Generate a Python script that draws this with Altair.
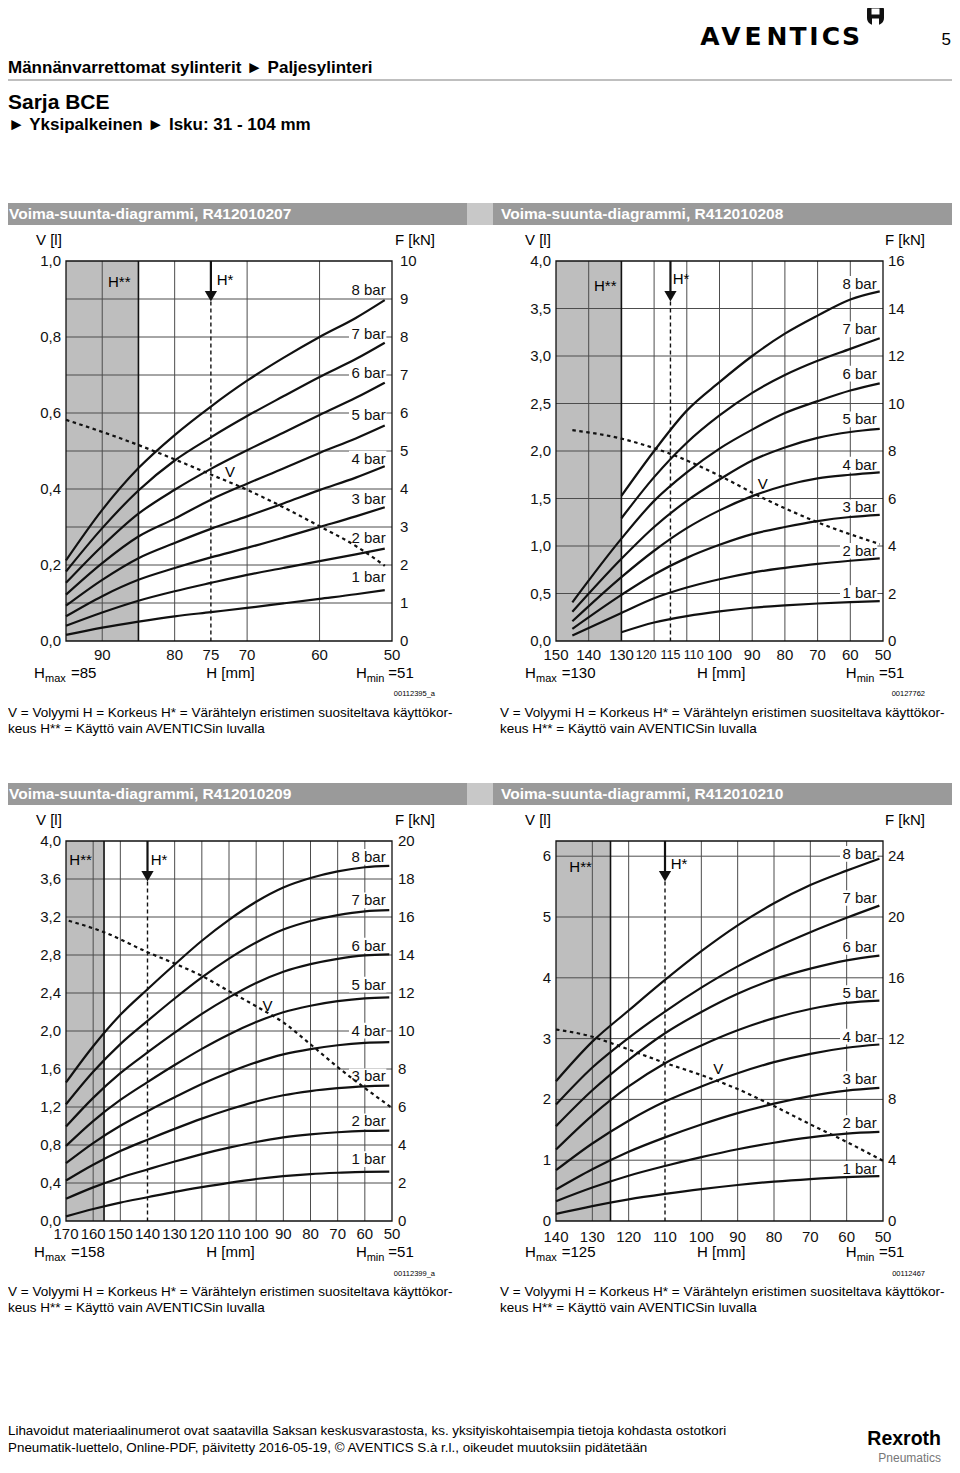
import altair as alt
import pandas as pd

FONT = "Liberation Sans"
LOGO_FONT = "DejaVu Sans"
OFF = 8
INK = "#111111"
GRID = "#4d4d4d"
SHADE = "#bebebe"
BAR_DARK = "#9a9a9a"
BAR_LIGHT = "#c8c8c8"
RULE = "#808080"

# ---------------- texts ----------------
header_line1 = "Männänvarrettomat sylinterit ► Paljesylinteri"
header_line2 = "Sarja BCE"
header_line3 = "► Yksipalkeinen ► Isku: 31 - 104 mm"
brand_letters = ["A", "V", "E", "N", "T", "I", "C", "S"]
page_number = "5"
panel_titles = ["Voima-suunta-diagrammi, R412010207", "Voima-suunta-diagrammi, R412010208",
                "Voima-suunta-diagrammi, R412010209", "Voima-suunta-diagrammi, R412010210"]
panel_codes = ["00112395_a", "00127762", "00112399_a", "00112467"]
hmax_values = ["=85", "=130", "=158", "=125"]
note_line1 = "V = Volyymi H = Korkeus H* = Värähtelyn eristimen suositeltava käyttökor-"
note_line2 = "keus H** = Käyttö vain AVENTICSin luvalla"
footer_line1 = ("Lihavoidut materiaalinumerot ovat saatavilla Saksan keskusvarastosta, ks. "
                "yksityiskohtaisempia tietoja kohdasta ostotkori")
footer_line2 = ("Pneumatik-luettelo, Online-PDF, päivitetty 2016-05-19, © AVENTICS S.à r.l., "
                "oikeudet muutoksiin pidätetään")
bar_names = ["1 bar", "2 bar", "3 bar", "4 bar", "5 bar", "6 bar", "7 bar", "8 bar"]

# ---------------- panel 1 : R412010207 ----------------
p1_h = [95, 90, 85, 80, 75, 70, 65, 60, 55, 51]
p1_bar1 = [0.16, 0.35, 0.51, 0.65, 0.76, 0.87, 0.99, 1.11, 1.23, 1.34]
p1_bar2 = [0.40, 0.75, 1.06, 1.31, 1.53, 1.74, 1.92, 2.10, 2.28, 2.43]
p1_bar3 = [0.65, 1.18, 1.61, 1.92, 2.20, 2.45, 2.72, 3.00, 3.28, 3.52]
p1_bar4 = [0.93, 1.61, 2.18, 2.58, 2.95, 3.28, 3.62, 3.97, 4.30, 4.60]
p1_bar5 = [1.22, 2.05, 2.75, 3.22, 3.72, 4.14, 4.54, 4.95, 5.33, 5.67]
p1_bar6 = [1.53, 2.50, 3.35, 3.98, 4.53, 5.02, 5.48, 5.95, 6.40, 6.80]
p1_bar7 = [1.83, 2.97, 3.96, 4.75, 5.36, 5.92, 6.44, 6.95, 7.42, 7.85]
p1_bar8 = [2.12, 3.45, 4.55, 5.42, 6.17, 6.85, 7.45, 8.00, 8.50, 8.97]
p1_vol_h = [95, 87, 80, 75, 70, 65, 60, 55, 51]
p1_vol = [0.582, 0.53, 0.478, 0.438, 0.398, 0.352, 0.302, 0.25, 0.198]
p1_xticks = [90, 80, 75, 70, 60, 50]
p1_vgrid = [90, 80, 70, 60]
p1_fgrid = [1, 2, 3, 4, 5, 6, 7, 8, 9]
p1_vticks = [0.0, 0.2, 0.4, 0.6, 0.8, 1.0]
p1_vtick_labels = ["0,0", "0,2", "0,4", "0,6", "0,8", "1,0"]
p1_fticks = [0, 1, 2, 3, 4, 5, 6, 7, 8, 9, 10]

# ---------------- panel 2 : R412010208 ----------------
p2_h_long = [145, 130, 120, 110, 100, 90, 80, 70, 60, 51]
p2_h_short = [130, 120, 110, 100, 90, 80, 70, 60, 51]
p2_bar1 = [0.37, 0.78, 1.05, 1.25, 1.40, 1.50, 1.58, 1.64, 1.68]
p2_bar2 = [0.23, 1.18, 1.80, 2.25, 2.60, 2.88, 3.08, 3.25, 3.38, 3.48]
p2_bar3 = [0.51, 1.94, 2.80, 3.50, 4.05, 4.50, 4.80, 5.05, 5.22, 5.31]
p2_bar4 = [0.83, 2.69, 3.80, 4.75, 5.50, 6.10, 6.55, 6.85, 7.00, 7.10]
p2_bar5 = [1.23, 3.46, 4.80, 5.90, 6.80, 7.60, 8.15, 8.55, 8.80, 8.93]
p2_bar6 = [1.63, 4.31, 5.90, 7.10, 8.10, 8.90, 9.60, 10.10, 10.55, 10.85]
p2_bar7 = [5.17, 6.90, 8.35, 9.50, 10.45, 11.20, 11.80, 12.30, 12.75]
p2_bar8 = [6.11, 8.00, 9.70, 10.90, 12.00, 12.94, 13.70, 14.38, 14.72]
p2_vol_h = [145, 130, 120, 115, 100, 87, 70, 51]
p2_vol = [2.22, 2.13, 2.03, 1.97, 1.74, 1.51, 1.25, 1.02]
p2_xticks = [150, 140, 130, 100, 90, 80, 70, 60, 50]
p2_vgrid = [140, 120, 110, 100, 90, 80, 70, 60]
p2_fgrid = [2, 4, 6, 8, 10, 12, 14]
p2_vticks = [0.0, 0.5, 1.0, 1.5, 2.0, 2.5, 3.0, 3.5, 4.0]
p2_vtick_labels = ["0,0", "0,5", "1,0", "1,5", "2,0", "2,5", "3,0", "3,5", "4,0"]
p2_fticks = [0, 2, 4, 6, 8, 10, 12, 14, 16]

# ---------------- panel 3 : R412010209 ----------------
p3_h = [170, 160, 150, 140, 130, 120, 110, 100, 90, 80, 70, 60, 51]
p3_bar1 = [0.24, 0.63, 0.97, 1.25, 1.53, 1.78, 2.01, 2.21, 2.36, 2.47, 2.54, 2.59, 2.60]
p3_bar2 = [1.17, 1.77, 2.28, 2.71, 3.13, 3.52, 3.86, 4.16, 4.40, 4.56, 4.67, 4.74, 4.76]
p3_bar3 = [2.13, 2.96, 3.68, 4.28, 4.85, 5.39, 5.87, 6.29, 6.62, 6.84, 6.99, 7.09, 7.12]
p3_bar4 = [3.04, 4.10, 5.01, 5.78, 6.51, 7.21, 7.82, 8.35, 8.77, 9.05, 9.25, 9.37, 9.41]
p3_bar5 = [3.95, 5.26, 6.37, 7.31, 8.21, 9.06, 9.82, 10.47, 10.99, 11.33, 11.57, 11.72, 11.77]
p3_bar6 = [4.97, 6.48, 7.78, 8.87, 9.91, 10.90, 11.77, 12.53, 13.12, 13.52, 13.80, 13.98, 14.03]
p3_bar7 = [6.14, 7.85, 9.31, 10.53, 11.71, 12.82, 13.81, 14.66, 15.34, 15.79, 16.10, 16.30, 16.36]
p3_bar8 = [7.29, 9.20, 10.85, 12.20, 13.50, 14.75, 15.85, 16.80, 17.55, 18.05, 18.40, 18.62, 18.69]
p3_vol_h = [169, 156, 140, 130, 120, 110, 100, 90, 80, 70, 60, 50]
p3_vol = [3.16, 3.04, 2.83, 2.71, 2.58, 2.42, 2.26, 2.09, 1.86, 1.62, 1.40, 1.19]
p3_xticks = [170, 160, 150, 140, 130, 120, 110, 100, 90, 80, 70, 60, 50]
p3_vgrid = [160, 150, 130, 120, 110, 100, 90, 80, 70, 60]
p3_fgrid = [2, 4, 6, 8, 10, 12, 14, 16, 18]
p3_vticks = [0.0, 0.4, 0.8, 1.2, 1.6, 2.0, 2.4, 2.8, 3.2, 3.6, 4.0]
p3_vtick_labels = ["0,0", "0,4", "0,8", "1,2", "1,6", "2,0", "2,4", "2,8", "3,2", "3,6", "4,0"]
p3_fticks = [0, 2, 4, 6, 8, 10, 12, 14, 16, 18, 20]

# ---------------- panel 4 : R412010210 ----------------
p4_h = [140, 130, 120, 110, 100, 90, 80, 70, 60, 51]
p4_bar1 = [0.47, 0.98, 1.42, 1.78, 2.10, 2.37, 2.59, 2.76, 2.89, 2.95]
p4_bar2 = [1.30, 2.20, 2.98, 3.62, 4.20, 4.72, 5.15, 5.50, 5.75, 5.86]
p4_bar3 = [2.07, 3.40, 4.55, 5.50, 6.35, 7.10, 7.72, 8.22, 8.58, 8.76]
p4_bar4 = [3.34, 5.10, 6.60, 7.86, 8.85, 9.72, 10.45, 11.00, 11.40, 11.61]
p4_bar5 = [4.70, 6.95, 8.85, 10.38, 11.55, 12.55, 13.35, 13.95, 14.35, 14.50]
p4_bar6 = [6.24, 8.60, 10.60, 12.35, 13.75, 14.95, 15.90, 16.60, 17.15, 17.46]
p4_bar7 = [7.66, 10.10, 12.05, 13.78, 15.35, 16.75, 17.95, 19.00, 19.95, 20.75]
p4_bar8 = [9.20, 11.80, 13.85, 15.86, 17.75, 19.45, 20.90, 22.10, 23.05, 23.84]
p4_vol_h = [140, 130, 125, 120, 110, 100, 90, 80, 70, 60, 50]
p4_vol = [3.15, 3.03, 2.93, 2.82, 2.60, 2.40, 2.17, 1.89, 1.59, 1.30, 0.99]
p4_xticks = [140, 130, 120, 110, 100, 90, 80, 70, 60, 50]
p4_vgrid = [130, 120, 100, 90, 80, 70, 60]
p4_fgrid = [4, 8, 12, 16, 20, 24]
p4_vticks = [0, 1, 2, 3, 4, 5, 6]
p4_vtick_labels = ["0", "1", "2", "3", "4", "5", "6"]
p4_fticks = [0, 4, 8, 12, 16, 20, 24]

ONE = pd.DataFrame({"k": [0]})


def txt(s, x, y, size=15, weight="normal", align="left", baseline="alphabetic",
        color="black", font=FONT):
    return alt.Chart(ONE).mark_text(
        text=s, align=align, baseline=baseline, fontSize=size, fontWeight=weight,
        color=color, font=font
    ).encode(x=alt.value(x - OFF), y=alt.value(y - OFF))


def box(x0, y0, x1, y1, color, radius=0):
    kw = {"color": color}
    if radius:
        kw["cornerRadius"] = radius
    return alt.Chart(ONE).mark_rect(**kw).encode(
        x=alt.value(x0 - OFF), x2=alt.value(x1 - OFF),
        y=alt.value(y0 - OFF), y2=alt.value(y1 - OFF))


def curves_frame(h_lists, f_lists):
    rows = []
    for name, hs, fs in zip(bar_names, h_lists, f_lists):
        for h, f in zip(hs, fs):
            rows.append({"bar": name, "h": h, "f": f})
    return pd.DataFrame(rows)


panels = [
    dict(x0=66, x1=392, y0=261, y1=641, h_hi=95, h_lo=50, f_top=10, v_top=1.0,
         hmax=85, hstar=75,
         curves=curves_frame([p1_h] * 8, [p1_bar1, p1_bar2, p1_bar3, p1_bar4,
                                          p1_bar5, p1_bar6, p1_bar7, p1_bar8]),
         vol_h=p1_vol_h, vol=p1_vol, xticks=p1_xticks, xticks_narrow=[], vgrid=p1_vgrid,
         fgrid=p1_fgrid, vticks=p1_vticks, vlabels=p1_vtick_labels, fticks=p1_fticks,
         lab_h=50.87, lab_f=[1.68, 2.71, 3.75, 4.80, 5.96, 7.04, 8.07, 9.24],
         title=panel_titles[0], code=panel_codes[0], hmaxv=hmax_values[0],
         tx=8, ty=219, bar_y0=203, left_lab=61, right_lab=400, vl_x=36, fk_x=435,
         xl_y=655, hrow_y=678, code_y=696, note_y=717,
         hmax_pos=(34, 45, 71), hmm_x=230.5, hmin_pos=(356, 366.7, 388.3),
         hss=(108, 282), hs=(216.7, 280), vlab=(230, 471.7)),
    dict(x0=556, x1=883, y0=261, y1=641, h_hi=150, h_lo=50, f_top=16, v_top=4.0,
         hmax=130, hstar=115,
         curves=curves_frame([p2_h_short, p2_h_long, p2_h_long, p2_h_long, p2_h_long,
                              p2_h_long, p2_h_short, p2_h_short],
                             [p2_bar1, p2_bar2, p2_bar3, p2_bar4,
                              p2_bar5, p2_bar6, p2_bar7, p2_bar8]),
         vol_h=p2_vol_h, vol=p2_vol, xticks=p2_xticks,
         xticks_narrow=[(120, -8), (115, 0), (110, 7)],
         vgrid=p2_vgrid, fgrid=p2_fgrid, vticks=p2_vticks, vlabels=p2_vtick_labels,
         fticks=p2_fticks,
         lab_h=51.93, lab_f=[2.02, 3.80, 5.63, 7.43, 9.33, 11.26, 13.12, 15.04],
         title=panel_titles[1], code=panel_codes[1], hmaxv=hmax_values[1],
         tx=500, ty=219, bar_y0=203, left_lab=551, right_lab=888, vl_x=525, fk_x=925,
         xl_y=655, hrow_y=678, code_y=696, note_y=717,
         hmax_pos=(525, 536, 561.7), hmm_x=721.2, hmin_pos=(845.7, 856.7, 879),
         hss=(594, 285.7), hs=(672.7, 279), vlab=(762.8, 484)),
    dict(x0=66, x1=392, y0=841, y1=1221, h_hi=170, h_lo=50, f_top=20, v_top=4.0,
         hmax=156, hstar=140,
         curves=curves_frame([p3_h] * 8, [p3_bar1, p3_bar2, p3_bar3, p3_bar4,
                                          p3_bar5, p3_bar6, p3_bar7, p3_bar8]),
         vol_h=p3_vol_h, vol=p3_vol, xticks=p3_xticks, xticks_narrow=[], vgrid=p3_vgrid,
         fgrid=p3_fgrid, vticks=p3_vticks, vlabels=p3_vtick_labels, fticks=p3_fticks,
         lab_h=52.33, lab_f=[3.26, 5.24, 7.61, 10.02, 12.44, 14.50, 16.87, 19.16],
         title=panel_titles[2], code=panel_codes[2], hmaxv=hmax_values[2],
         tx=8, ty=799, bar_y0=783, left_lab=61, right_lab=398, vl_x=36, fk_x=435,
         xl_y=1234, hrow_y=1257, code_y=1276, note_y=1296,
         hmax_pos=(34, 45, 71), hmm_x=230.5, hmin_pos=(356, 366.7, 388.3),
         hss=(69.3, 860.3), hs=(150.7, 859.7), vlab=(267.5, 1006)),
    dict(x0=556, x1=883, y0=841, y1=1221, h_hi=140, h_lo=50, f_top=25, v_top=6.25,
         hmax=125, hstar=110,
         curves=curves_frame([p4_h] * 8, [p4_bar1, p4_bar2, p4_bar3, p4_bar4,
                                          p4_bar5, p4_bar6, p4_bar7, p4_bar8]),
         vol_h=p4_vol_h, vol=p4_vol, xticks=p4_xticks, xticks_narrow=[], vgrid=p4_vgrid,
         fgrid=p4_fgrid, vticks=p4_vticks, vlabels=p4_vtick_labels, fticks=p4_fticks,
         lab_h=51.73, lab_f=[3.43, 6.44, 9.33, 12.13, 14.99, 18.03, 21.25, 24.16],
         title=panel_titles[3], code=panel_codes[3], hmaxv=hmax_values[3],
         tx=500, ty=799, bar_y0=783, left_lab=551, right_lab=888, vl_x=525, fk_x=925,
         xl_y=1237, hrow_y=1257, code_y=1276, note_y=1296,
         hmax_pos=(525, 536, 561.7), hmm_x=721.2, hmin_pos=(845.7, 856.7, 879),
         hss=(569.3, 867), hs=(670.7, 864.3), vlab=(718.3, 1069.3)),
]


def panel(c):
    xs = alt.Scale(domain=[c["h_lo"], c["h_hi"]], range=[c["x1"] - OFF, c["x0"] - OFF],
                   nice=False, zero=False)
    yf = alt.Scale(domain=[0, c["f_top"]], range=[c["y1"] - OFF, c["y0"] - OFF],
                   nice=False, zero=False)
    yv = alt.Scale(domain=[0, c["v_top"]], range=[c["y1"] - OFF, c["y0"] - OFF],
                   nice=False, zero=False)
    ft = c["f_top"]
    L = []
    # shaded zone (H**)
    shade = pd.DataFrame({"a": [c["h_hi"]], "b": [c["hmax"]], "lo": [0], "hi": [ft]})
    L.append(alt.Chart(shade).mark_rect(color=SHADE).encode(
        x=alt.X("a:Q", scale=xs, axis=None), x2="b:Q",
        y=alt.Y("lo:Q", scale=yf, axis=None), y2="hi:Q"))
    # horizontal grid
    hg = pd.DataFrame({"f": c["fgrid"]})
    hg["a"] = c["h_hi"]
    hg["b"] = c["h_lo"]
    L.append(alt.Chart(hg).mark_rule(color=GRID, strokeWidth=1).encode(
        y=alt.Y("f:Q", scale=yf, axis=None), x=alt.X("a:Q", scale=xs, axis=None), x2="b:Q"))
    # vertical grid
    vg = pd.DataFrame({"h": c["vgrid"]})
    vg["lo"] = 0
    vg["hi"] = ft
    L.append(alt.Chart(vg).mark_rule(color=GRID, strokeWidth=1).encode(
        x=alt.X("h:Q", scale=xs, axis=None), y=alt.Y("lo:Q", scale=yf, axis=None), y2="hi:Q"))
    # Hmax border
    hm = pd.DataFrame({"h": [c["hmax"]], "lo": [0], "hi": [ft]})
    L.append(alt.Chart(hm).mark_rule(color=INK, strokeWidth=1.6).encode(
        x=alt.X("h:Q", scale=xs, axis=None), y=alt.Y("lo:Q", scale=yf, axis=None), y2="hi:Q"))
    # frame
    fr = pd.DataFrame({"a": [c["h_hi"]], "b": [c["h_lo"]], "lo": [0], "hi": [ft]})
    L.append(alt.Chart(fr).mark_rect(fillOpacity=0, stroke=INK, strokeWidth=1.3).encode(
        x=alt.X("a:Q", scale=xs, axis=None), x2="b:Q",
        y=alt.Y("lo:Q", scale=yf, axis=None), y2="hi:Q"))
    # label masks
    lab = pd.DataFrame({"bar": bar_names, "f": c["lab_f"]})
    lab["h"] = c["lab_h"]
    L.append(alt.Chart(lab).mark_point(
        shape="M-1,-0.42H1V0.42H-1Z", filled=True, color="white", opacity=1,
        size=1400, xOffset=-18).encode(
        x=alt.X("h:Q", scale=xs, axis=None), y=alt.Y("f:Q", scale=yf, axis=None)))
    # H* arrow
    arrow = pd.DataFrame({"h": [c["hstar"]], "top": [ft],
                          "a": [ft * (1 - 31 / 380)], "tri": [ft * (1 - 35.2 / 380)],
                          "tip": [ft * (1 - 40.5 / 380)], "zero": [0]})
    L.append(alt.Chart(arrow).mark_rule(color=INK, strokeWidth=2.2).encode(
        x=alt.X("h:Q", scale=xs, axis=None), y=alt.Y("top:Q", scale=yf, axis=None), y2="a:Q"))
    L.append(alt.Chart(arrow).mark_point(shape="triangle-down", filled=True, color=INK,
                                         opacity=1, size=150).encode(
        x=alt.X("h:Q", scale=xs, axis=None), y=alt.Y("tri:Q", scale=yf, axis=None)))
    L.append(alt.Chart(arrow).mark_rule(color=INK, strokeWidth=1.4, strokeDash=[4, 3]).encode(
        x=alt.X("h:Q", scale=xs, axis=None), y=alt.Y("tip:Q", scale=yf, axis=None), y2="zero:Q"))
    # force curves
    L.append(alt.Chart(c["curves"]).mark_line(color=INK, strokeWidth=2.2,
                                              interpolate="monotone").encode(
        x=alt.X("h:Q", scale=xs, axis=None), y=alt.Y("f:Q", scale=yf, axis=None),
        detail="bar:N"))
    # volume line
    vol = pd.DataFrame({"h": c["vol_h"], "v": c["vol"]})
    L.append(alt.Chart(vol).mark_line(color=INK, strokeWidth=2.2, strokeDash=[3.5, 3.5],
                                      interpolate="monotone").encode(
        x=alt.X("h:Q", scale=xs, axis=None), y=alt.Y("v:Q", scale=yv, axis=None)))
    # bar labels
    L.append(alt.Chart(lab).mark_text(align="right", baseline="middle", fontSize=15,
                                      color=INK).encode(
        x=alt.X("h:Q", scale=xs, axis=None), y=alt.Y("f:Q", scale=yf, axis=None),
        text="bar:N"))
    # left axis labels (V)
    vt = pd.DataFrame({"v": c["vticks"], "lab": c["vlabels"]})
    L.append(alt.Chart(vt).mark_text(align="right", baseline="middle", fontSize=15,
                                     color=INK).encode(
        y=alt.Y("v:Q", scale=yv, axis=None), x=alt.value(c["left_lab"] - OFF), text="lab:N"))
    # right axis labels (F)
    ftk = pd.DataFrame({"f": c["fticks"]})
    L.append(alt.Chart(ftk).mark_text(align="left", baseline="middle", fontSize=15,
                                      color=INK).encode(
        y=alt.Y("f:Q", scale=yf, axis=None), x=alt.value(c["right_lab"] - OFF), text="f:Q"))
    # x axis labels (H)
    xt = pd.DataFrame({"h": c["xticks"]})
    L.append(alt.Chart(xt).mark_text(align="center", baseline="middle", fontSize=15,
                                     color=INK).encode(
        x=alt.X("h:Q", scale=xs, axis=None), y=alt.value(c["xl_y"] - OFF), text="h:Q"))
    for val, shift in c["xticks_narrow"]:
        xn = pd.DataFrame({"h": [val]})
        L.append(alt.Chart(xn).mark_text(align="center", baseline="middle", fontSize=12.5,
                                         dx=shift, color=INK).encode(
            x=alt.X("h:Q", scale=xs, axis=None), y=alt.value(c["xl_y"] - OFF),
            text="h:Q"))
    # title bar
    by = c["bar_y0"]
    if c["tx"] < 100:
        L.append(box(8, by, 467, by + 22, BAR_DARK))
        L.append(box(467, by, 493, by + 22, BAR_LIGHT))
    else:
        L.append(box(493, by, 952, by + 22, BAR_DARK))
    L.append(txt(c["title"], c["tx"] + 1, c["ty"], size=15.5, weight="bold", color="white"))
    # axis titles
    L.append(txt("V [l]", c["vl_x"], c["y0"] - 21, size=15, baseline="middle"))
    L.append(txt("F [kN]", c["fk_x"], c["y0"] - 21, size=15, baseline="middle", align="right"))
    # H** , H*, V labels
    L.append(txt("H**", c["hss"][0], c["hss"][1], size=15, baseline="middle"))
    L.append(txt("H*", c["hs"][0], c["hs"][1], size=15, baseline="middle"))
    L.append(txt("V", c["vlab"][0], c["vlab"][1], size=15, baseline="middle", align="center"))
    # bottom row
    hy = c["hrow_y"]
    L.append(txt("H", c["hmax_pos"][0], hy, size=15))
    L.append(txt("max", c["hmax_pos"][1], hy + 4, size=11))
    L.append(txt(c["hmaxv"], c["hmax_pos"][2], hy, size=15))
    L.append(txt("H [mm]", c["hmm_x"], hy, size=15, align="center"))
    L.append(txt("H", c["hmin_pos"][0], hy, size=15))
    L.append(txt("min", c["hmin_pos"][1], hy + 4, size=11))
    L.append(txt("=51", c["hmin_pos"][2], hy, size=15))
    L.append(txt(c["code"], c["fk_x"], c["code_y"], size=7.5, align="right"))
    L.append(txt(note_line1, c["tx"], c["note_y"], size=13.5))
    L.append(txt(note_line2, c["tx"], c["note_y"] + 16, size=13.5))
    return L


layers = []
# header
layers.append(txt(header_line1, 8, 73, size=17, weight="bold"))
layers.append(alt.Chart(ONE).mark_rule(color=RULE, strokeWidth=1.2).encode(
    x=alt.value(8 - OFF), x2=alt.value(952 - OFF), y=alt.value(80 - OFF)))
layers.append(txt(header_line2, 8, 109, size=21, weight="bold"))
layers.append(txt(header_line3, 8, 130, size=17, weight="bold"))
for letter, cx in zip(brand_letters, [710, 731, 753, 777, 798, 814, 831, 851]):
    layers.append(txt(letter, cx, 45, size=25, weight="bold", align="center", font=LOGO_FONT))
layers.append(box(867, 3, 884, 25, INK, radius=7))
layers.append(box(871.5, 8.5, 879.5, 14.5, "white"))
layers.append(box(872, 18.5, 879, 26, "white"))
layers.append(txt(page_number, 951, 45, size=17, align="right"))

for c in panels:
    layers += panel(c)

# footer
layers.append(txt(footer_line1, 8, 1435, size=13.4))
layers.append(txt(footer_line2, 8, 1452, size=13.4))
layers.append(txt("Rexroth", 941, 1445, size=19.5, weight="bold", align="right"))
layers.append(txt("Pneumatics", 941, 1462, size=12, align="right", color="#777777"))

chart = alt.layer(*layers).resolve_scale(x="independent", y="independent").properties(
    width=944, height=1457, padding=0,
    autosize=alt.AutoSizeParams(type="none"),
).configure(font=FONT, view=alt.ViewConfig(stroke=None))

chart.save("out.html", embed_options={"renderer": "svg", "actions": False})
